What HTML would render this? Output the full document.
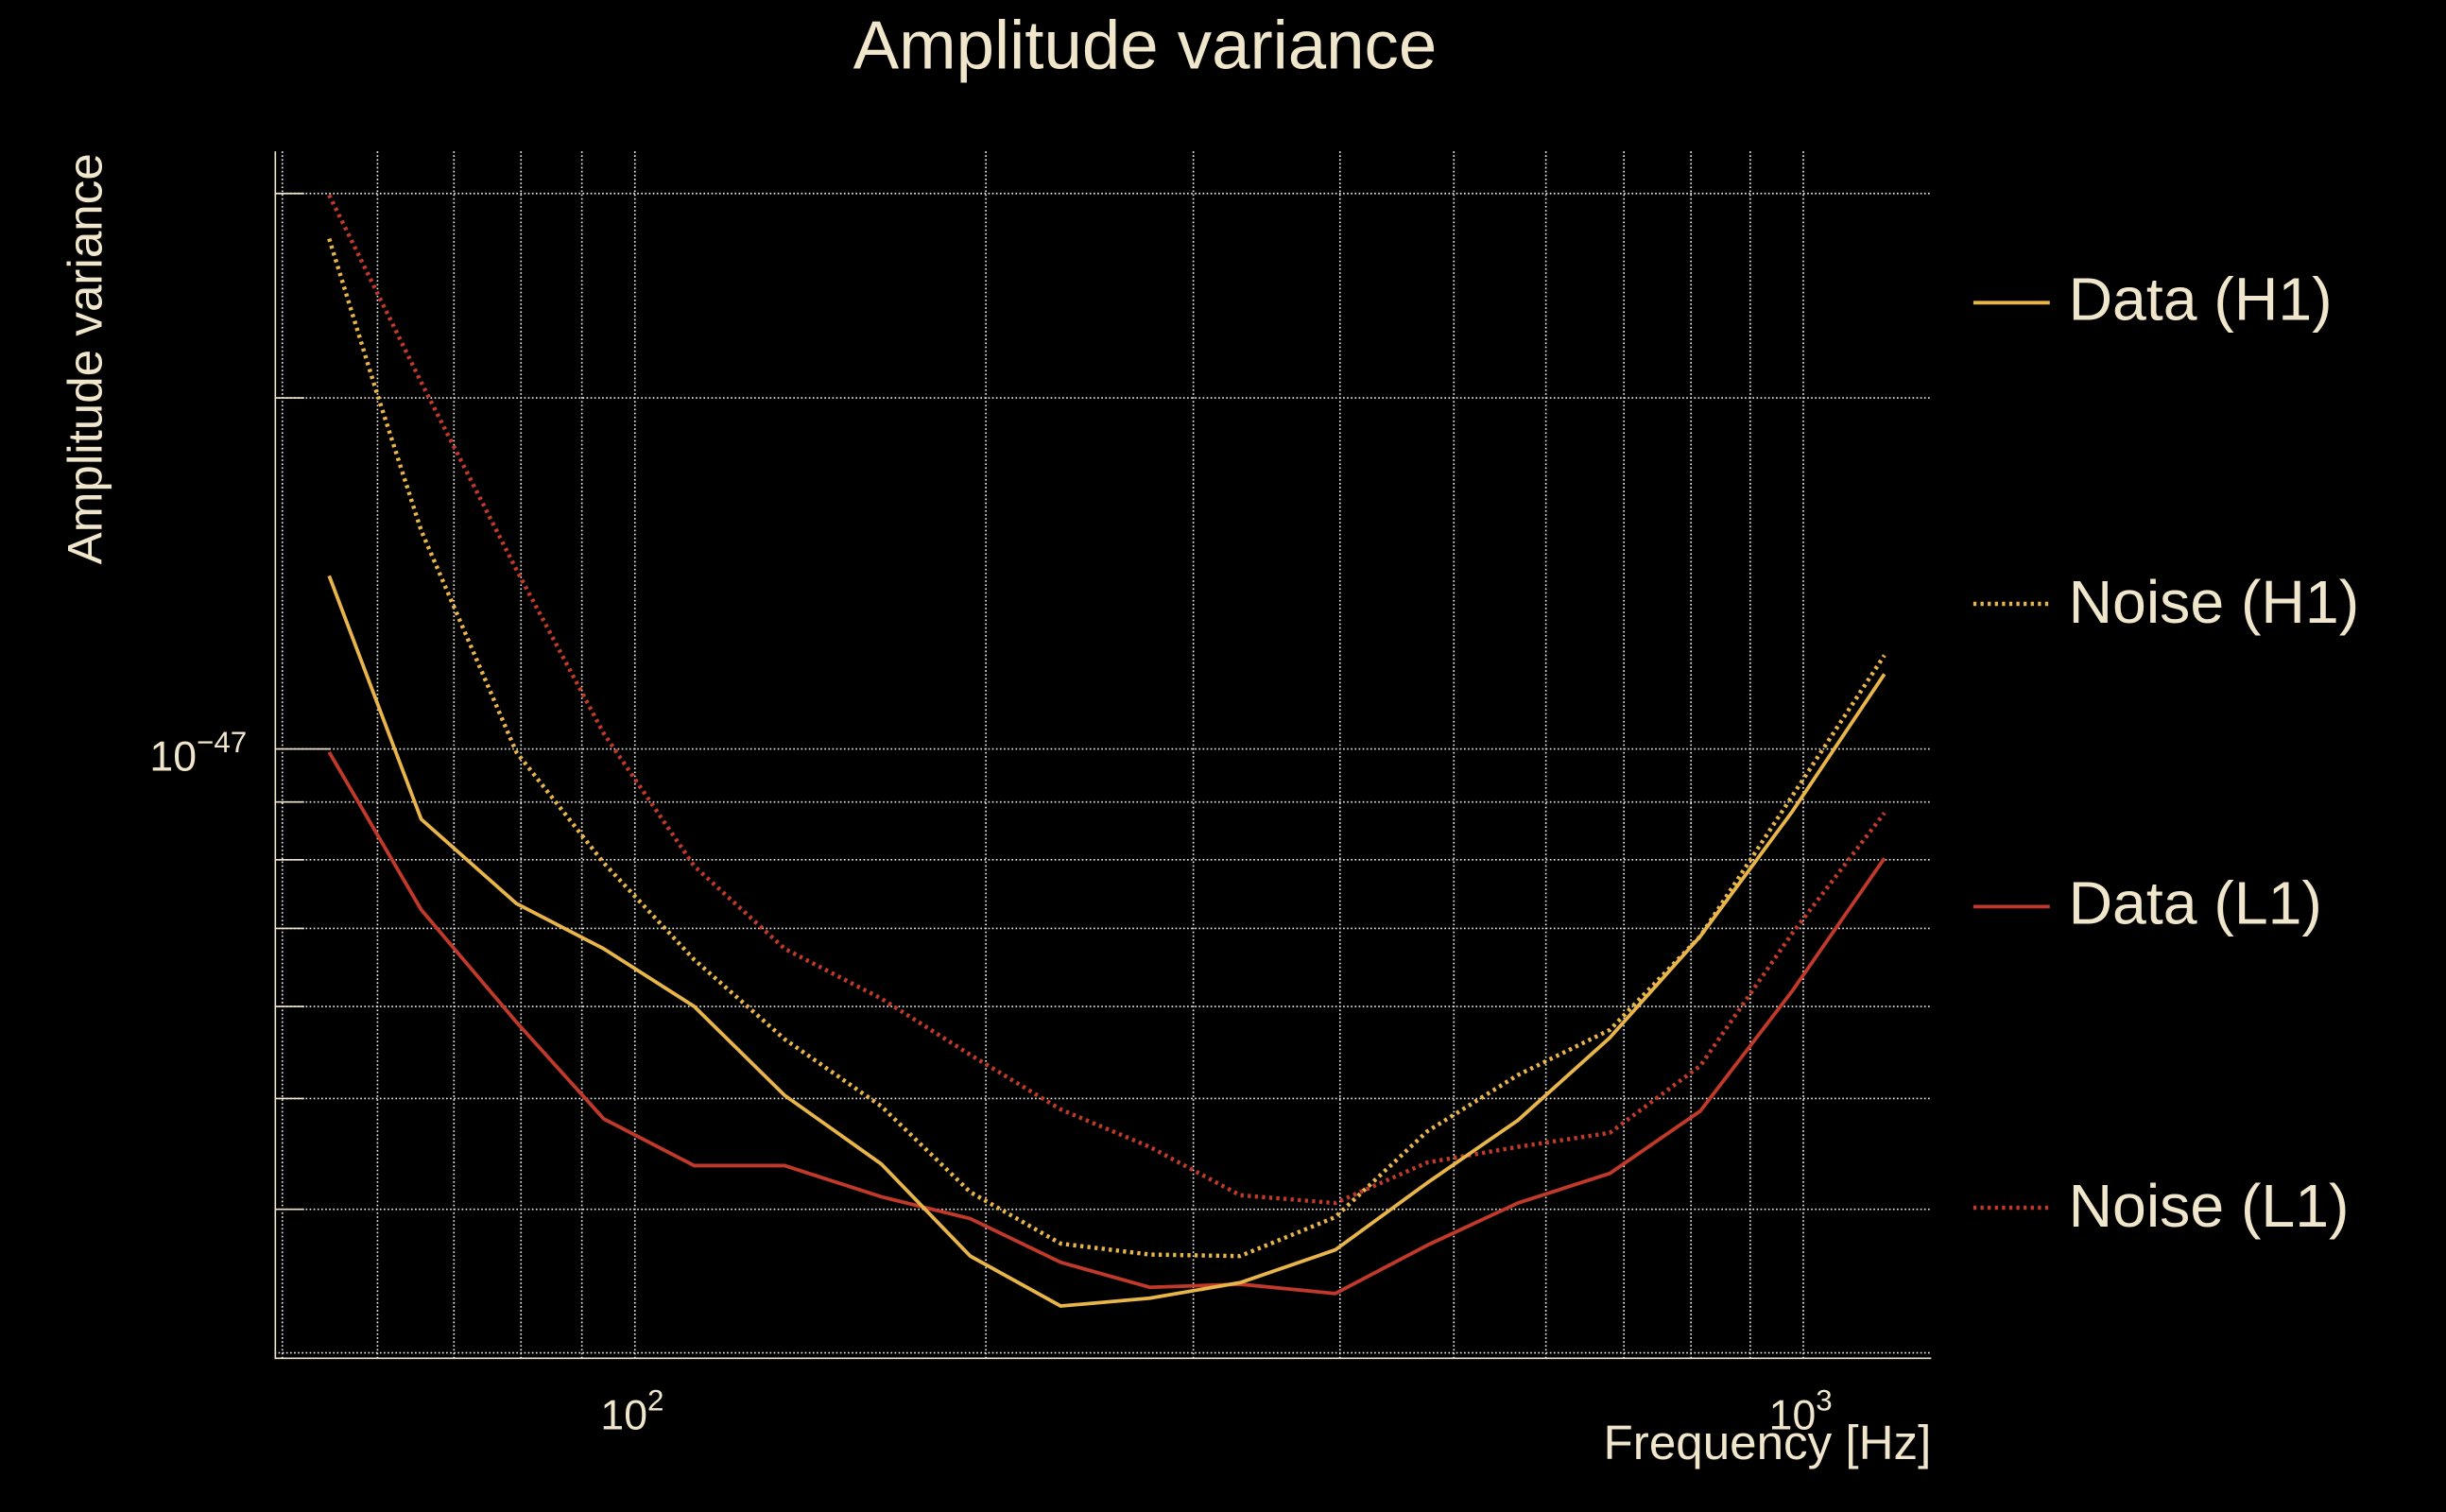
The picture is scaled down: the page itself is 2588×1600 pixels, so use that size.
<!DOCTYPE html>
<html><head><meta charset="utf-8"><style>
html,body{margin:0;padding:0;background:#000;}
svg{display:block;}
text{font-family:"Liberation Sans",sans-serif;fill:#f0e6cc;}
</style></head><body>
<svg width="2588" height="1600" viewBox="0 0 1568 969" preserveAspectRatio="none" xmlns="http://www.w3.org/2000/svg">
<rect width="1568" height="969" fill="#000"/>
<g stroke="#eeeeee" stroke-width="1" stroke-dasharray="1 1.5" fill="none">
<line x1="181" y1="97" x2="181" y2="870"/>
<line x1="242" y1="97" x2="242" y2="870"/>
<line x1="291" y1="97" x2="291" y2="870"/>
<line x1="334" y1="97" x2="334" y2="870"/>
<line x1="373" y1="97" x2="373" y2="870"/>
<line x1="407" y1="97" x2="407" y2="870"/>
<line x1="632" y1="97" x2="632" y2="870"/>
<line x1="765" y1="97" x2="765" y2="870"/>
<line x1="859" y1="97" x2="859" y2="870"/>
<line x1="932" y1="97" x2="932" y2="870"/>
<line x1="991" y1="97" x2="991" y2="870"/>
<line x1="1041" y1="97" x2="1041" y2="870"/>
<line x1="1084" y1="97" x2="1084" y2="870"/>
<line x1="1122" y1="97" x2="1122" y2="870"/>
<line x1="1156" y1="97" x2="1156" y2="870"/>
<line x1="176" y1="124" x2="1238" y2="124"/>
<line x1="176" y1="255" x2="1238" y2="255"/>
<line x1="176" y1="480" x2="1238" y2="480"/>
<line x1="176" y1="514" x2="1238" y2="514"/>
<line x1="176" y1="551" x2="1238" y2="551"/>
<line x1="176" y1="595" x2="1238" y2="595"/>
<line x1="176" y1="645" x2="1238" y2="645"/>
<line x1="176" y1="704" x2="1238" y2="704"/>
<line x1="176" y1="775" x2="1238" y2="775"/>
<line x1="176" y1="867" x2="1238" y2="867"/>
</g>
<g stroke="#f0e6cc" stroke-width="1" fill="none">
<line x1="176.5" y1="97" x2="176.5" y2="871"/>
<line x1="176" y1="870.5" x2="1238" y2="870.5"/>
<line x1="176" y1="124" x2="195" y2="124"/>
<line x1="176" y1="255" x2="195" y2="255"/>
<line x1="176" y1="480" x2="212" y2="480"/>
<line x1="176" y1="514" x2="195" y2="514"/>
<line x1="176" y1="551" x2="195" y2="551"/>
<line x1="176" y1="595" x2="195" y2="595"/>
<line x1="176" y1="645" x2="195" y2="645"/>
<line x1="176" y1="704" x2="195" y2="704"/>
<line x1="176" y1="775" x2="195" y2="775"/>
</g>
<g fill="none" stroke-width="2.3" stroke-linejoin="round">
<polyline stroke="#c0392b" stroke-width="2.7" stroke-dasharray="2 2.6" points="211,125 270,245 331,365 387,470 445,555 503,608 565,640 622,676 680,711 737,735 795,766 856,771 915,745 973,735 1032,726 1090,683 1149,598 1208,521"/>
<polyline stroke="#e8b54a" stroke-width="2.7" stroke-dasharray="2 2.6" points="211,153 241,250 270,340 331,482 387,553 445,615 503,666 565,709 622,764 680,797 737,804 795,805 856,780 915,725 973,689 1032,660 1090,600 1149,510 1208,420"/>
<polyline stroke="#c0392b" points="211,482 270,583 331,655 387,717 445,747 503,747 565,767 622,781 680,809 737,825 795,823 856,829 915,798 973,771 1032,752 1090,712 1149,635 1208,550"/>
<polyline stroke="#e8b54a" points="211,369 270,525 331,579 387,608 445,645 503,702 565,746 622,805 680,837 737,832 795,822 856,801 915,758 973,718 1032,665 1090,600 1149,520 1208,432"/>
</g>
<text x="734" y="44" font-size="44" text-anchor="middle">Amplitude variance</text>
<text transform="translate(65,230) rotate(-90)" font-size="31" text-anchor="middle">Amplitude variance</text>
<text x="1238" y="935" font-size="31" text-anchor="end">Frequency [Hz]</text>
<text x="385" y="916" font-size="27">10<tspan dy="-12" font-size="19">2</tspan></text>
<text x="1134" y="916" font-size="27">10<tspan dy="-12" font-size="19">3</tspan></text>
<text x="96" y="494" font-size="27">10<tspan dy="-12" font-size="19">−47</tspan></text>
<g stroke-width="2.3">
<line x1="1265" y1="194" x2="1314" y2="194" stroke="#e8b54a"/>
<line x1="1265" y1="387" x2="1314" y2="387" stroke="#e8b54a" stroke-width="2.7" stroke-dasharray="2 2.6"/>
<line x1="1265" y1="581" x2="1314" y2="581" stroke="#c0392b"/>
<line x1="1265" y1="774" x2="1314" y2="774" stroke="#c0392b" stroke-width="2.7" stroke-dasharray="2 2.6"/>
</g>
<text x="1326" y="205" font-size="39">Data (H1)</text>
<text x="1326" y="399" font-size="39">Noise (H1)</text>
<text x="1326" y="592" font-size="39">Data (L1)</text>
<text x="1326" y="786" font-size="39">Noise (L1)</text>
</svg>
</body></html>
